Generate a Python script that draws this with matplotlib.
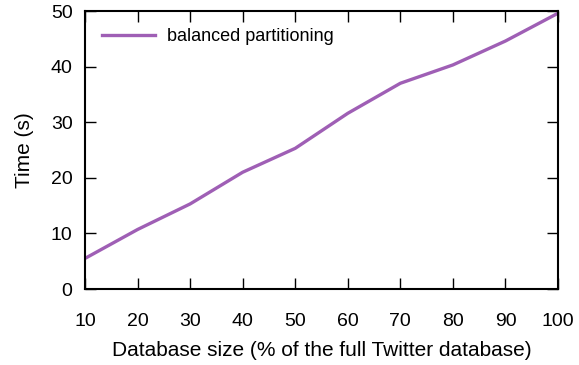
#!/usr/bin/env python
import matplotlib
matplotlib.use("Agg")
import matplotlib.pyplot as plt

# database size (% of full twitter db) vs. run time
db_size = [10, 20, 30, 40, 50, 60, 70, 80, 90, 100]
time_s = [5.5, 10.7, 15.3, 21.0, 25.3, 31.6, 37.0, 40.3, 44.6, 49.6]

plt.rcParams["font.family"] = ["Liberation Sans", "DejaVu Sans"]
plt.rcParams["font.size"] = 14

fig = plt.figure(figsize=(5.79, 3.65), dpi=100)
ax = fig.add_axes([85 / 579, 1 - 289 / 365, (558 - 85) / 579, (289 - 11) / 365])

ax.plot(db_size, time_s, color="#9f5fb5", lw=2.4, label="balanced partitioning")

ax.set_xlim(10, 100)
ax.set_ylim(0, 50)
ax.set_xticks(db_size)
ax.set_yticks([0, 10, 20, 30, 40, 50])
ax.tick_params(direction="in", top=True, right=True, length=8, width=1.0)
ax.tick_params(axis="x", pad=17)
ax.tick_params(axis="y", pad=9)
for s in ax.spines.values():
    s.set_linewidth(1.5)

ax.set_xlabel("Database size (% of the full Twitter database)", fontsize=15, labelpad=8)
ax.set_ylabel("Time (s)", fontsize=15, labelpad=12)

ax.legend(loc="upper left", frameon=False, handlelength=2.9, handletextpad=0.7,
          borderaxespad=0.55, fontsize=13)

plt.savefig("out.png", dpi=100)
